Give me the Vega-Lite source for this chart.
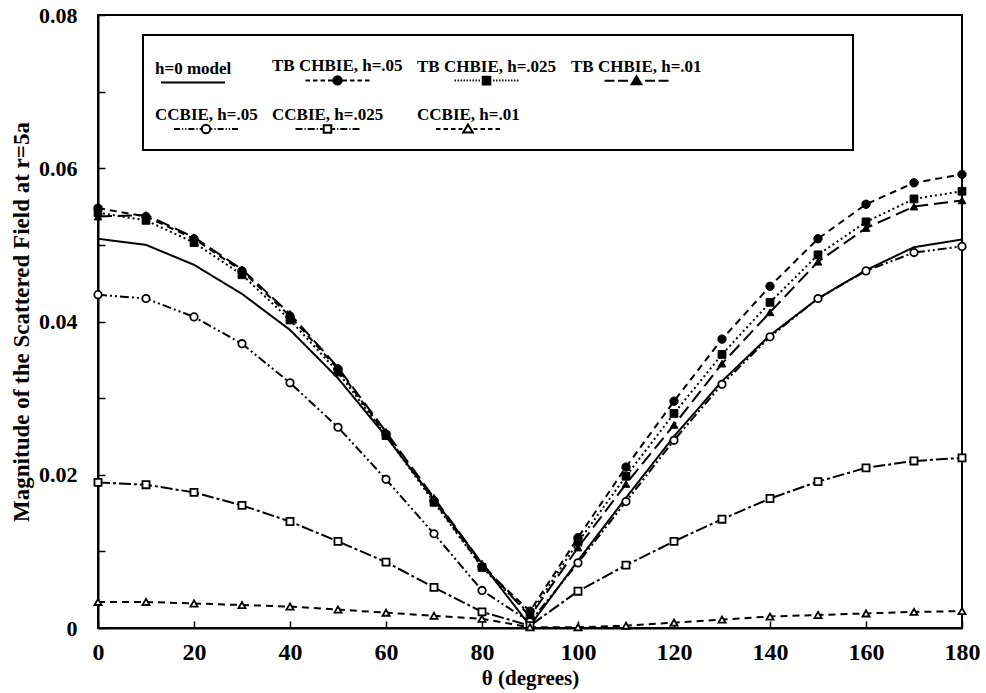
{
  "$schema": "https://vega.github.io/schema/vega-lite/v6.json",
  "width": 864,
  "height": 613,
  "autosize": {"type": "none"},
  "padding": {"left": 98, "top": 15, "right": 24, "bottom": 65},
  "background": "white",
  "config": {
    "view": {"stroke": "black", "strokeWidth": 2},
    "font": "Liberation Serif",
    "axis": {"grid": false, "domainColor": "black", "domainWidth": 2, "tickColor": "black", "tickWidth": 1.5, "labelColor": "black", "titleColor": "black", "labelFont": "Liberation Serif", "titleFont": "Liberation Serif", "labelFontWeight": "bold", "titleFontWeight": "bold"}
  },
  "data": {"values": [
    {"series": "h=0 model", "theta": 0, "value": 0.0508},
    {"series": "h=0 model", "theta": 10, "value": 0.0500},
    {"series": "h=0 model", "theta": 20, "value": 0.0474},
    {"series": "h=0 model", "theta": 30, "value": 0.0436},
    {"series": "h=0 model", "theta": 40, "value": 0.0389},
    {"series": "h=0 model", "theta": 50, "value": 0.0326},
    {"series": "h=0 model", "theta": 60, "value": 0.0250},
    {"series": "h=0 model", "theta": 70, "value": 0.0168},
    {"series": "h=0 model", "theta": 80, "value": 0.0084},
    {"series": "h=0 model", "theta": 90, "value": 0.0003},
    {"series": "h=0 model", "theta": 100, "value": 0.0088},
    {"series": "h=0 model", "theta": 110, "value": 0.0170},
    {"series": "h=0 model", "theta": 120, "value": 0.0250},
    {"series": "h=0 model", "theta": 130, "value": 0.0322},
    {"series": "h=0 model", "theta": 140, "value": 0.0382},
    {"series": "h=0 model", "theta": 150, "value": 0.0430},
    {"series": "h=0 model", "theta": 160, "value": 0.0467},
    {"series": "h=0 model", "theta": 170, "value": 0.0497},
    {"series": "h=0 model", "theta": 180, "value": 0.0507},
    {"series": "TB CHBIE, h=.05", "theta": 0, "value": 0.0548},
    {"series": "TB CHBIE, h=.05", "theta": 10, "value": 0.0537},
    {"series": "TB CHBIE, h=.05", "theta": 20, "value": 0.0508},
    {"series": "TB CHBIE, h=.05", "theta": 30, "value": 0.0466},
    {"series": "TB CHBIE, h=.05", "theta": 40, "value": 0.0407},
    {"series": "TB CHBIE, h=.05", "theta": 50, "value": 0.0338},
    {"series": "TB CHBIE, h=.05", "theta": 60, "value": 0.0253},
    {"series": "TB CHBIE, h=.05", "theta": 70, "value": 0.0166},
    {"series": "TB CHBIE, h=.05", "theta": 80, "value": 0.0080},
    {"series": "TB CHBIE, h=.05", "theta": 90, "value": 0.0022},
    {"series": "TB CHBIE, h=.05", "theta": 100, "value": 0.0118},
    {"series": "TB CHBIE, h=.05", "theta": 110, "value": 0.0210},
    {"series": "TB CHBIE, h=.05", "theta": 120, "value": 0.0296},
    {"series": "TB CHBIE, h=.05", "theta": 130, "value": 0.0377},
    {"series": "TB CHBIE, h=.05", "theta": 140, "value": 0.0446},
    {"series": "TB CHBIE, h=.05", "theta": 150, "value": 0.0508},
    {"series": "TB CHBIE, h=.05", "theta": 160, "value": 0.0553},
    {"series": "TB CHBIE, h=.05", "theta": 170, "value": 0.0581},
    {"series": "TB CHBIE, h=.05", "theta": 180, "value": 0.0592},
    {"series": "TB CHBIE, h=.025", "theta": 0, "value": 0.0542},
    {"series": "TB CHBIE, h=.025", "theta": 10, "value": 0.0532},
    {"series": "TB CHBIE, h=.025", "theta": 20, "value": 0.0503},
    {"series": "TB CHBIE, h=.025", "theta": 30, "value": 0.0461},
    {"series": "TB CHBIE, h=.025", "theta": 40, "value": 0.0402},
    {"series": "TB CHBIE, h=.025", "theta": 50, "value": 0.0334},
    {"series": "TB CHBIE, h=.025", "theta": 60, "value": 0.0251},
    {"series": "TB CHBIE, h=.025", "theta": 70, "value": 0.0164},
    {"series": "TB CHBIE, h=.025", "theta": 80, "value": 0.0079},
    {"series": "TB CHBIE, h=.025", "theta": 90, "value": 0.0018},
    {"series": "TB CHBIE, h=.025", "theta": 100, "value": 0.0112},
    {"series": "TB CHBIE, h=.025", "theta": 110, "value": 0.0198},
    {"series": "TB CHBIE, h=.025", "theta": 120, "value": 0.0280},
    {"series": "TB CHBIE, h=.025", "theta": 130, "value": 0.0357},
    {"series": "TB CHBIE, h=.025", "theta": 140, "value": 0.0425},
    {"series": "TB CHBIE, h=.025", "theta": 150, "value": 0.0487},
    {"series": "TB CHBIE, h=.025", "theta": 160, "value": 0.0530},
    {"series": "TB CHBIE, h=.025", "theta": 170, "value": 0.0560},
    {"series": "TB CHBIE, h=.025", "theta": 180, "value": 0.0570},
    {"series": "TB CHBIE, h=.01", "theta": 0, "value": 0.0537},
    {"series": "TB CHBIE, h=.01", "theta": 10, "value": 0.0539},
    {"series": "TB CHBIE, h=.01", "theta": 20, "value": 0.0510},
    {"series": "TB CHBIE, h=.01", "theta": 30, "value": 0.0468},
    {"series": "TB CHBIE, h=.01", "theta": 40, "value": 0.0410},
    {"series": "TB CHBIE, h=.01", "theta": 50, "value": 0.0340},
    {"series": "TB CHBIE, h=.01", "theta": 60, "value": 0.0256},
    {"series": "TB CHBIE, h=.01", "theta": 70, "value": 0.0170},
    {"series": "TB CHBIE, h=.01", "theta": 80, "value": 0.0084},
    {"series": "TB CHBIE, h=.01", "theta": 90, "value": 0.0015},
    {"series": "TB CHBIE, h=.01", "theta": 100, "value": 0.0105},
    {"series": "TB CHBIE, h=.01", "theta": 110, "value": 0.0188},
    {"series": "TB CHBIE, h=.01", "theta": 120, "value": 0.0265},
    {"series": "TB CHBIE, h=.01", "theta": 130, "value": 0.0345},
    {"series": "TB CHBIE, h=.01", "theta": 140, "value": 0.0412},
    {"series": "TB CHBIE, h=.01", "theta": 150, "value": 0.0478},
    {"series": "TB CHBIE, h=.01", "theta": 160, "value": 0.0522},
    {"series": "TB CHBIE, h=.01", "theta": 170, "value": 0.0550},
    {"series": "TB CHBIE, h=.01", "theta": 180, "value": 0.0558},
    {"series": "CCBIE, h=.05", "theta": 0, "value": 0.0435},
    {"series": "CCBIE, h=.05", "theta": 10, "value": 0.0430},
    {"series": "CCBIE, h=.05", "theta": 20, "value": 0.0406},
    {"series": "CCBIE, h=.05", "theta": 30, "value": 0.0371},
    {"series": "CCBIE, h=.05", "theta": 40, "value": 0.0320},
    {"series": "CCBIE, h=.05", "theta": 50, "value": 0.0262},
    {"series": "CCBIE, h=.05", "theta": 60, "value": 0.0194},
    {"series": "CCBIE, h=.05", "theta": 70, "value": 0.0123},
    {"series": "CCBIE, h=.05", "theta": 80, "value": 0.0049},
    {"series": "CCBIE, h=.05", "theta": 90, "value": 0.0008},
    {"series": "CCBIE, h=.05", "theta": 100, "value": 0.0085},
    {"series": "CCBIE, h=.05", "theta": 110, "value": 0.0165},
    {"series": "CCBIE, h=.05", "theta": 120, "value": 0.0245},
    {"series": "CCBIE, h=.05", "theta": 130, "value": 0.0318},
    {"series": "CCBIE, h=.05", "theta": 140, "value": 0.0380},
    {"series": "CCBIE, h=.05", "theta": 150, "value": 0.0430},
    {"series": "CCBIE, h=.05", "theta": 160, "value": 0.0466},
    {"series": "CCBIE, h=.05", "theta": 170, "value": 0.0490},
    {"series": "CCBIE, h=.05", "theta": 180, "value": 0.0498},
    {"series": "CCBIE, h=.025", "theta": 0, "value": 0.0190},
    {"series": "CCBIE, h=.025", "theta": 10, "value": 0.0187},
    {"series": "CCBIE, h=.025", "theta": 20, "value": 0.0177},
    {"series": "CCBIE, h=.025", "theta": 30, "value": 0.0160},
    {"series": "CCBIE, h=.025", "theta": 40, "value": 0.0139},
    {"series": "CCBIE, h=.025", "theta": 50, "value": 0.0113},
    {"series": "CCBIE, h=.025", "theta": 60, "value": 0.0086},
    {"series": "CCBIE, h=.025", "theta": 70, "value": 0.0053},
    {"series": "CCBIE, h=.025", "theta": 80, "value": 0.0021},
    {"series": "CCBIE, h=.025", "theta": 90, "value": 0.0003},
    {"series": "CCBIE, h=.025", "theta": 100, "value": 0.0048},
    {"series": "CCBIE, h=.025", "theta": 110, "value": 0.0082},
    {"series": "CCBIE, h=.025", "theta": 120, "value": 0.0113},
    {"series": "CCBIE, h=.025", "theta": 130, "value": 0.0142},
    {"series": "CCBIE, h=.025", "theta": 140, "value": 0.0169},
    {"series": "CCBIE, h=.025", "theta": 150, "value": 0.0191},
    {"series": "CCBIE, h=.025", "theta": 160, "value": 0.0209},
    {"series": "CCBIE, h=.025", "theta": 170, "value": 0.0218},
    {"series": "CCBIE, h=.025", "theta": 180, "value": 0.0222},
    {"series": "CCBIE, h=.01", "theta": 0, "value": 0.0034},
    {"series": "CCBIE, h=.01", "theta": 10, "value": 0.0034},
    {"series": "CCBIE, h=.01", "theta": 20, "value": 0.0032},
    {"series": "CCBIE, h=.01", "theta": 30, "value": 0.0030},
    {"series": "CCBIE, h=.01", "theta": 40, "value": 0.0028},
    {"series": "CCBIE, h=.01", "theta": 50, "value": 0.0024},
    {"series": "CCBIE, h=.01", "theta": 60, "value": 0.0020},
    {"series": "CCBIE, h=.01", "theta": 70, "value": 0.0016},
    {"series": "CCBIE, h=.01", "theta": 80, "value": 0.0012},
    {"series": "CCBIE, h=.01", "theta": 90, "value": 0.0001},
    {"series": "CCBIE, h=.01", "theta": 100, "value": 0.0001},
    {"series": "CCBIE, h=.01", "theta": 110, "value": 0.0003},
    {"series": "CCBIE, h=.01", "theta": 120, "value": 0.0007},
    {"series": "CCBIE, h=.01", "theta": 130, "value": 0.0011},
    {"series": "CCBIE, h=.01", "theta": 140, "value": 0.0015},
    {"series": "CCBIE, h=.01", "theta": 150, "value": 0.0017},
    {"series": "CCBIE, h=.01", "theta": 160, "value": 0.0019},
    {"series": "CCBIE, h=.01", "theta": 170, "value": 0.0021},
    {"series": "CCBIE, h=.01", "theta": 180, "value": 0.0022}
  ]},
  "encoding": {
    "x": {"field": "theta", "type": "quantitative", "scale": {"domain": [0, 180], "nice": false},
      "axis": {"title": "θ (degrees)", "values": [0, 20, 40, 60, 80, 100, 120, 140, 160, 180], "labelFontSize": 24, "titleFontSize": 21, "tickSize": -7, "labelPadding": 19, "titlePadding": 3, "labelFlush": false}},
    "y": {"field": "value", "type": "quantitative", "scale": {"domain": [0, 0.08], "nice": false},
      "axis": {"title": "Magnitude of the Scattered Field at r=5a", "values": [0, 0.01, 0.02, 0.03, 0.04, 0.05, 0.06, 0.07, 0.08], "labelExpr": "round(datum.value*100) % 2 == 0 ? (datum.value == 0 ? '0' : format(datum.value, '.2f')) : ''", "labelFontSize": 22, "titleFontSize": 23, "tickSize": -7, "labelPadding": 28, "titlePadding": 5, "labelFlush": false}}
  },
  "layer": [
    {
      "mark": {"type": "line", "stroke": "black", "strokeWidth": 2},
      "encoding": {
        "strokeDash": {"field": "series", "type": "nominal", "legend": null,
          "scale": {"domain": ["CCBIE, h=.01", "CCBIE, h=.025", "CCBIE, h=.05", "TB CHBIE, h=.01", "TB CHBIE, h=.025", "TB CHBIE, h=.05", "h=0 model"],
            "range": [[7, 5], [12, 3, 3, 3], [9, 3, 2, 3, 2, 3], [14, 6], [2, 3], [7, 5], [1, 0]]}}
      }
    },
    {
      "transform": [{"filter": {"field": "series", "equal": "TB CHBIE, h=.05"}}],
      "mark": {"type": "point", "shape": "circle", "filled": true, "fill": "black", "stroke": "black", "strokeWidth": 1, "size": 70, "opacity": 1}
    },
    {
      "transform": [{"filter": {"field": "series", "equal": "TB CHBIE, h=.025"}}],
      "mark": {"type": "point", "shape": "square", "filled": true, "fill": "black", "stroke": "black", "strokeWidth": 1, "size": 60, "opacity": 1}
    },
    {
      "transform": [{"filter": {"field": "series", "equal": "TB CHBIE, h=.01"}}],
      "mark": {"type": "point", "shape": "triangle-up", "filled": true, "fill": "black", "stroke": "black", "strokeWidth": 1, "size": 60, "opacity": 1}
    },
    {
      "transform": [{"filter": {"field": "series", "equal": "CCBIE, h=.05"}}],
      "mark": {"type": "point", "shape": "circle", "filled": true, "fill": "white", "stroke": "black", "strokeWidth": 1.8, "size": 55, "opacity": 1}
    },
    {
      "transform": [{"filter": {"field": "series", "equal": "CCBIE, h=.025"}}],
      "mark": {"type": "point", "shape": "square", "filled": true, "fill": "white", "stroke": "black", "strokeWidth": 1.8, "size": 50, "opacity": 1}
    },
    {
      "transform": [{"filter": {"field": "series", "equal": "CCBIE, h=.01"}}],
      "mark": {"type": "point", "shape": "triangle-up", "filled": true, "fill": "white", "stroke": "black", "strokeWidth": 1.8, "size": 50, "opacity": 1}
    },
    {
      "mark": {"type": "point", "filled": true, "stroke": "black", "strokeWidth": 2, "opacity": 0},
      "encoding": {
        "shape": {"field": "series", "type": "nominal", "title": null,
          "scale": {"domain": ["h=0 model", "TB CHBIE, h=.05", "TB CHBIE, h=.025", "TB CHBIE, h=.01", "CCBIE, h=.05", "CCBIE, h=.025", "CCBIE, h=.01"],
            "range": [
              "M-0.5,2.2L5.9,2.2",
              "M2.25,2.2L2.7,2.2M3,2.2L3.45,2.2M3.75,2.2L4.2,2.2M4.5,2.2L4.95,2.2M5.95,2.2L6.4,2.2M6.7,2.2L7.15,2.2M7.45,2.2L7.9,2.2M8.2,2.2L8.65,2.2M5.03,2.2A0.42,0.42,0,1,1,5.87,2.2A0.42,0.42,0,1,1,5.03,2.2Z",
              "M2.65,2.2L2.79,2.2M2.95,2.2L3.09,2.2M3.25,2.2L3.39,2.2M3.55,2.2L3.69,2.2M3.85,2.2L3.99,2.2M4.15,2.2L4.29,2.2M4.45,2.2L4.59,2.2M4.75,2.2L4.89,2.2M5.05,2.2L5.19,2.2M6.51,2.2L6.65,2.2M6.81,2.2L6.95,2.2M7.11,2.2L7.25,2.2M7.41,2.2L7.55,2.2M7.71,2.2L7.85,2.2M8.01,2.2L8.15,2.2M8.31,2.2L8.45,2.2M8.61,2.2L8.75,2.2M8.91,2.2L9.05,2.2M5.47,1.82L6.23,1.82L6.23,2.58L5.47,2.58Z",
              "M2.25,2.2L3.25,2.2M3.6,2.2L4.6,2.2M6.3,2.2L7.3,2.2M7.65,2.2L8.65,2.2M5.45,1.75L5.93,2.55L4.97,2.55ZM25.5,2.2",
              "M0.8,2.2L1.4,2.2M1.6,2.2L1.72,2.2M1.92,2.2L2.04,2.2M2.24,2.2L2.84,2.2M3.04,2.2L3.16,2.2M3.36,2.2L3.48,2.2M4.52,2.2L4.64,2.2M4.84,2.2L4.96,2.2M5.16,2.2L5.76,2.2M5.96,2.2L6.08,2.2M6.28,2.2L6.4,2.2M6.6,2.2L7.2,2.2M3.58,2.2A0.42,0.42,0,1,1,4.42,2.2A0.42,0.42,0,1,1,3.58,2.2Z",
              "M1.25,2.2L1.95,2.2M2.15,2.2L2.27,2.2M2.47,2.2L3.17,2.2M3.37,2.2L3.49,2.2M3.69,2.2L3.95,2.2M4.95,2.2L5.21,2.2M5.41,2.2L5.53,2.2M5.73,2.2L6.43,2.2M6.63,2.2L6.75,2.2M6.95,2.2L7.65,2.2M4.07,1.82L4.83,1.82L4.83,2.58L4.07,2.58Z",
              "M0.8,2.2L1.25,2.2M1.55,2.2L2,2.2M2.3,2.2L2.75,2.2M3.05,2.2L3.45,2.2M4.55,2.2L4.95,2.2M5.25,2.2L5.7,2.2M6,2.2L6.45,2.2M6.75,2.2L7.2,2.2M4,1.75L4.48,2.55L3.52,2.55Z"
            ]},
          "legend": {"orient": "none", "legendX": 45, "legendY": 20, "direction": "horizontal", "columns": 4, "padding": 12, "strokeColor": "black", "fillColor": "white", "labelFont": "Liberation Serif", "labelFontWeight": "bold", "labelFontSize": 17, "labelColor": "black", "labelAlign": "left", "labelBaseline": "top", "labelOffset": -22, "labelLimit": 300, "symbolSize": 400, "symbolStrokeWidth": 2, "symbolStrokeColor": "black", "symbolOpacity": 1, "columnPadding": 14, "rowPadding": 7,
            "encode": {"symbols": {"update": {"stroke": {"value": "black"}, "strokeWidth": {"value": 2}}}, "legend": {"update": {"strokeWidth": {"value": 2}}}}}},
        "fill": {"field": "series", "type": "nominal", "title": null,
          "scale": {"domain": ["h=0 model", "TB CHBIE, h=.05", "TB CHBIE, h=.025", "TB CHBIE, h=.01", "CCBIE, h=.05", "CCBIE, h=.025", "CCBIE, h=.01"],
            "range": ["black", "black", "black", "black", "white", "white", "white"]},
          "legend": {"orient": "none", "legendX": 45, "legendY": 20, "direction": "horizontal", "columns": 4, "padding": 12, "strokeColor": "black", "fillColor": "white", "labelFont": "Liberation Serif", "labelFontWeight": "bold", "labelFontSize": 17, "labelColor": "black", "labelAlign": "left", "labelBaseline": "top", "labelOffset": -22, "labelLimit": 300, "symbolSize": 400, "symbolStrokeWidth": 2, "symbolStrokeColor": "black", "symbolOpacity": 1, "columnPadding": 14, "rowPadding": 7,
            "encode": {"symbols": {"update": {"stroke": {"value": "black"}, "strokeWidth": {"value": 2}}}, "legend": {"update": {"strokeWidth": {"value": 2}}}}}}
      }
    }
  ]
}
